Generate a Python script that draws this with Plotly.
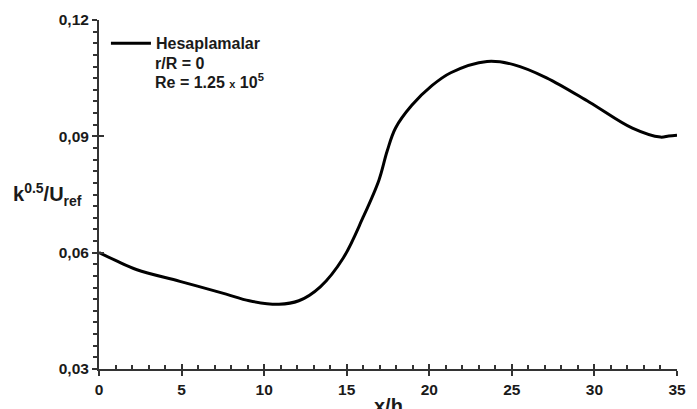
import plotly.graph_objects as go

x_h = [0, 1.0, 2.3, 4.9, 7.7, 9.1, 10.9, 12.1, 13.4, 14.8, 16.0, 16.95, 17.45, 17.95,
       18.94, 20.14, 21.3, 23.5, 25.1, 27.1, 29.7, 32.3, 34.0, 34.5, 35.0]
k_u = [0.0600, 0.0580, 0.0556, 0.0526, 0.0493, 0.0476, 0.0467, 0.0476, 0.0512, 0.0587,
       0.0692, 0.0787, 0.0862, 0.0921, 0.0980, 0.1030, 0.1064, 0.1093, 0.1085, 0.1051,
       0.0988, 0.0921, 0.0898, 0.0901, 0.0903]

x_ticks = [0, 5, 10, 15, 20, 25, 30, 35]
y_ticks = [0.03, 0.06, 0.09, 0.12]
y_ticktext = ["0,03", "0,06", "0,09", "0,12"]

FONT = "Liberation Sans"
AX = "#333333"
TXT = "#1a1a1a"

fig = go.Figure()
fig.add_trace(go.Scatter(x=x_h, y=k_u, mode="lines", name="Hesaplamalar",
                         line=dict(color="black", width=3, shape="spline", smoothing=1.0),
                         cliponaxis=False))
# overlay dummy trace for inside ticks
fig.add_trace(go.Scatter(x=[None], y=[None], xaxis="x2", yaxis="y2", showlegend=False))

common = dict(showgrid=False, zeroline=False, linecolor=AX, linewidth=2, tickcolor=AX, tickwidth=2)
tickfont = dict(family=FONT, size=15.5, color=TXT, weight="bold")

fig.update_layout(
    width=697, height=409,
    margin=dict(l=99, r=11, t=16, b=36),
    paper_bgcolor="white", plot_bgcolor="white",
    font=dict(family=FONT, size=15, color=TXT),
    xaxis=dict(range=[0, 35], tickvals=x_ticks, ticks="outside", ticklen=5,
               showline=True, tickfont=tickfont, **common),
    yaxis=dict(range=[0.03, 0.12], tickvals=y_ticks, ticktext=y_ticktext,
               ticks="outside", ticklen=5, showline=True,
               minor=dict(dtick=0.003, ticks="outside", ticklen=4, tickcolor=AX, tickwidth=1.5),
               tickfont=tickfont, **common),
    xaxis2=dict(range=[0, 35], overlaying="x", anchor="y2", tickvals=x_ticks, ticks="inside",
                ticklen=5, showticklabels=False, showline=False,
                minor=dict(dtick=1, ticks="inside", ticklen=4, tickcolor=AX, tickwidth=1.5),
                showgrid=False, zeroline=False, tickcolor=AX, tickwidth=2),
    yaxis2=dict(range=[0.03, 0.12], overlaying="y", anchor="x2", tickvals=y_ticks, ticks="inside",
                ticklen=5, showticklabels=False, showline=False,
                showgrid=False, zeroline=False, tickcolor=AX, tickwidth=2),
    showlegend=True,
    legend=dict(x=0.012, y=0.982, xanchor="left", yanchor="top", bgcolor="rgba(0,0,0,0)",
                font=dict(family=FONT, size=16, color=TXT, weight="bold"),
                itemwidth=40, tracegroupgap=0),
    annotations=[
        dict(text="r/R = 0", xref="paper", yref="paper", x=0.0937, y=0.876,
             xanchor="left", yanchor="middle", showarrow=False,
             font=dict(family=FONT, size=16, color=TXT, weight="bold")),
        dict(text="Re = 1.25 <span style='font-size:11px'>x</span> 10<sup>5</sup>",
             xref="paper", yref="paper", x=0.0937, y=0.824,
             xanchor="left", yanchor="middle", showarrow=False,
             font=dict(family=FONT, size=16, color=TXT, weight="bold")),
        dict(text="k<sup>0.5</sup>/U<sub>ref</sub>", xref="paper", yref="paper",
             x=-0.152, y=0.5, xanchor="left", yanchor="middle", showarrow=False,
             font=dict(family=FONT, size=20, color=TXT, weight="bold")),
        dict(text="x/h", xref="paper", yref="paper", x=0.50, y=-0.07,
             xanchor="center", yanchor="top", showarrow=False,
             font=dict(family=FONT, size=20, color=TXT, weight="bold")),
    ],
)

fig.write_html("out.html")
